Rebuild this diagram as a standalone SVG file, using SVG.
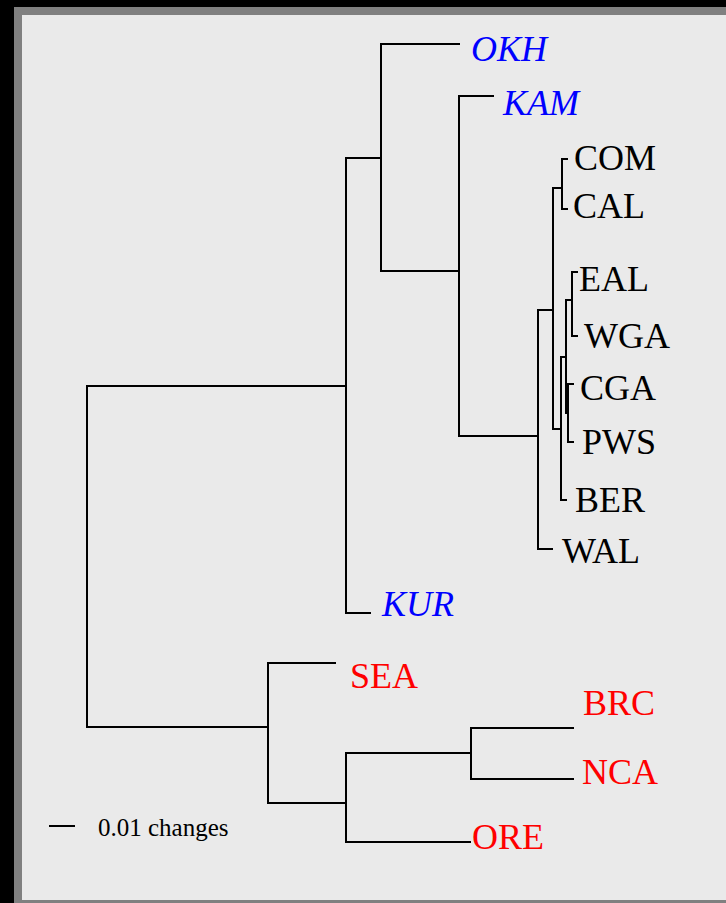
<svg xmlns="http://www.w3.org/2000/svg" width="726" height="903" viewBox="0 0 726 903">
<style>
.e{fill:none;stroke:#000;stroke-width:2;stroke-linecap:square}
.t{font-family:"Liberation Serif","Times New Roman",serif;font-size:36px}
.b{fill:#0000ff;font-style:italic}
.r{fill:#ff0000}
.k{fill:#000}
</style>
<rect x="0" y="0" width="726" height="903" fill="#000"/>
<rect x="14" y="7" width="712" height="896" fill="#808080"/>
<rect x="22" y="15" width="704" height="885" fill="#eaeaea"/>
<g id="connectors" class="e">
<path d="M346,386H87V727H268"/>
<path d="M381,158H346V613H370"/>
<path d="M459,44H381V271H459"/>
<path d="M493,96H459V436H538"/>
<path d="M553,310H538V549H552"/>
<path d="M562,188H553V429H561"/>
<path d="M567,159H562V209H567"/>
<path d="M566,357H561V500H566"/>
<path d="M572,300H566V413H568"/>
<path d="M577,272H572V336H577"/>
<path d="M573,384H568V442H573"/>
<path d="M335,663H268V803H346"/>
<path d="M471,753H346V842H470"/>
<path d="M573,728H471V779H573"/>
<path d="M50,826H74"/>
</g>
<g id="OKH"><text class="t b" x="471" y="61">OKH</text></g>
<g id="KAM"><text class="t b" x="503" y="115">KAM</text></g>
<g id="COM"><text class="t k" x="574" y="170">COM</text></g>
<g id="CAL"><text class="t k" x="573" y="218">CAL</text></g>
<g id="EAL"><text class="t k" x="579" y="291">EAL</text></g>
<g id="WGA"><text class="t k" x="584" y="348">WGA</text></g>
<g id="CGA"><text class="t k" x="580" y="400">CGA</text></g>
<g id="PWS"><text class="t k" x="582" y="454">PWS</text></g>
<g id="BER"><text class="t k" x="575" y="512">BER</text></g>
<g id="WAL"><text class="t k" x="562" y="563">WAL</text></g>
<g id="KUR"><text class="t b" x="382" y="616">KUR</text></g>
<g id="SEA"><text class="t r" x="350" y="688">SEA</text></g>
<g id="BRC"><text class="t r" x="583" y="715">BRC</text></g>
<g id="NCA"><text class="t r" x="582" y="784">NCA</text></g>
<g id="ORE"><text class="t r" x="472" y="849">ORE</text></g>
<g id="scale"><text x="98" y="836" style="font-family:'Liberation Serif','Times New Roman',serif;font-size:25px;fill:#000">0.01 changes</text></g>
</svg>
